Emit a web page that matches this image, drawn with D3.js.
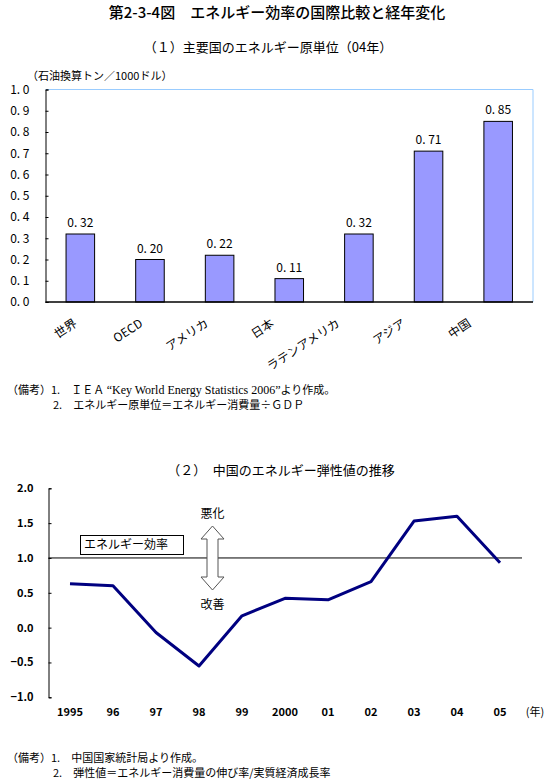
<!DOCTYPE html>
<meta charset="utf-8">
<style>
body { margin: 0; background: #fff; }
text { font-family: "Noto Sans CJK JP", "DejaVu Sans", sans-serif; fill: #000; }
</style>
<svg width="554" height="783"></svg>
<script src="https://cdn.jsdelivr.net/npm/d3@7"></script>
<script>

// chart 1 data
var regions = ["世界", "OECD", "アメリカ", "日本", "ラテンアメリカ", "アジア", "中国"];
var intensity = [0.32, 0.20, 0.22, 0.11, 0.32, 0.71, 0.85];
var intensityLabels = ["0. 32", "0. 20", "0. 22", "0. 11", "0. 32", "0. 71", "0. 85"];
var yTicks1 = [0, 0.1, 0.2, 0.3, 0.4, 0.5, 0.6, 0.7, 0.8, 0.9, 1.0];

// chart 2 data
var years = ["1995", "96", "97", "98", "99", "2000", "01", "02", "03", "04", "05"];
var elasticity = [0.63, 0.60, -0.07, -0.55, 0.17, 0.42, 0.40, 0.66, 1.53, 1.60, 0.93];
var yTicks2 = [-1.0, -0.5, 0, 0.5, 1.0, 1.5, 2.0];

var svg = d3.select("svg");

// titles
svg.append("text")
    .attr("x", 277).attr("y", 18)
    .attr("text-anchor", "middle")
    .attr("font-size", "15px")
    .attr("font-weight", "500")
    .text("第2-3-4図　エネルギー効率の国際比較と経年変化");

svg.append("text")
    .attr("x", 268).attr("y", 52)
    .attr("text-anchor", "middle")
    .attr("font-size", "13px")
    .text("（１）主要国のエネルギー原単位（04年）");

svg.append("text")
    .attr("x", 27).attr("y", 80)
    .attr("font-size", "11px")
    .text("（石油換算トン／1000ドル）");

// ---- chart 1: bars
var x1 = d3.scaleBand()
    .domain(regions)
    .range([45.5, 533])
    .paddingInner(0.59)
    .paddingOuter(0.295);

var y1 = d3.scaleLinear()
    .domain([0, 1])
    .range([302, 89.5]);

// label anchors (Excel packs the rotated labels a bit tighter)
var xl = d3.scalePoint()
    .domain(regions)
    .range([73, 467]);

// plot area border (light blue top / right)
svg.append("path")
    .attr("d", "M" + x1.range()[0] + "," + y1(1) + "H" + x1.range()[1] + "V" + y1(0))
    .attr("fill", "none")
    .attr("stroke", "#99ccff")
    .attr("stroke-width", 1);

svg.selectAll(".bar")
    .data(intensity)
    .enter().append("rect")
    .attr("class", "bar")
    .attr("x", function(d, i) { return x1(regions[i]); })
    .attr("y", function(d) { return y1(d); })
    .attr("width", x1.bandwidth())
    .attr("height", function(d) { return y1(0) - y1(d); })
    .attr("fill", "#9999ff")
    .attr("stroke", "#000")
    .attr("stroke-width", 1);

svg.selectAll(".val")
    .data(intensity)
    .enter().append("text")
    .attr("class", "val")
    .attr("x", function(d, i) { return x1(regions[i]) + x1.bandwidth() / 2; })
    .attr("y", function(d) { return y1(d) - 7; })
    .attr("text-anchor", "middle")
    .attr("font-size", "12px")
    .text(function(d, i) { return intensityLabels[i]; });

var yAxis1 = svg.append("g")
    .attr("transform", "translate(45.5,0)")
    .call(d3.axisLeft(y1).tickValues(yTicks1).tickSize(-3).tickPadding(16)
        .tickFormat(function(d) { return d3.format(".1f")(d).replace(".", ". "); }));
yAxis1.select(".domain").attr("stroke", "#000");
yAxis1.selectAll("text").attr("font-size", "12px").attr("font-family", "\"Noto Sans CJK JP\", sans-serif");

svg.append("line")
    .attr("x1", 45.5).attr("x2", 533)
    .attr("y1", y1(0)).attr("y2", y1(0))
    .attr("stroke", "#000").attr("stroke-width", 1.5);

svg.selectAll(".xl")
    .data(regions)
    .enter().append("text")
    .attr("class", "xl")
    .attr("transform", function(d) { return "translate(" + xl(d) + ",318) rotate(-33)"; })
    .attr("text-anchor", "end")
    .attr("dy", "0.75em")
    .attr("font-size", "12px")
    .text(function(d) { return d; });

// notes 1
var n1 = svg.append("text").attr("x", 7).attr("y", 394).attr("font-size", "11px");
n1.append("tspan").text("（備考）1.　ＩＥＡ ");
n1.append("tspan").attr("font-family", "\"Liberation Serif\", serif").attr("font-size", "12px")
    .text("“Key World Energy Statistics 2006”");
n1.append("tspan").text("より作成。");
svg.append("text").attr("x", 53).attr("y", 409).attr("font-size", "11px")
    .text("2.　エネルギー原単位＝エネルギー消費量÷ＧＤＰ");

// ---- chart 2: line
svg.append("text")
    .attr("x", 281).attr("y", 475)
    .attr("text-anchor", "middle")
    .attr("font-size", "13px")
    .text("（２）　中国のエネルギー弾性値の推移");

var x2 = d3.scalePoint()
    .domain(years)
    .range([70, 500]);

var y2 = d3.scaleLinear()
    .domain([-1, 2])
    .range([697.3, 488.3]);

var yAxis2 = svg.append("g")
    .attr("transform", "translate(48.5,0)")
    .call(d3.axisLeft(y2).tickValues(yTicks2).tickSize(-3).tickPadding(15)
        .tickFormat(d3.format(".1f")));
yAxis2.selectAll("text").attr("font-size", "11px").attr("font-weight", "bold")
    .attr("font-family", "\"Liberation Sans\", Arial, sans-serif")
    .text(function(d) { return d3.format(".1f")(d).replace("-", "−"); });

svg.selectAll(".xl2")
    .data(years)
    .enter().append("text")
    .attr("class", "xl2")
    .attr("x", function(d) { return x2(d); })
    .attr("y", 716)
    .attr("text-anchor", "middle")
    .attr("font-size", "11px")
    .attr("font-weight", "bold")
    .attr("font-family", "\"Liberation Sans\", Arial, sans-serif")
    .text(function(d) { return d; });

svg.append("text")
    .attr("x", 535).attr("y", 716)
    .attr("text-anchor", "middle")
    .attr("font-size", "11px")
    .text("(年)");

// reference line at 1.0
svg.append("line")
    .attr("x1", 48.5).attr("x2", 522)
    .attr("y1", y2(1)).attr("y2", y2(1))
    .attr("stroke", "#000").attr("stroke-width", 1);

var line = d3.line()
    .x(function(d, i) { return x2(years[i]); })
    .y(function(d) { return y2(d); });

svg.append("path")
    .datum(elasticity)
    .attr("d", line)
    .attr("fill", "none")
    .attr("stroke", "#000080")
    .attr("stroke-width", 3)
    .attr("stroke-linejoin", "round");

// label box
svg.append("rect")
    .attr("x", 80.5).attr("y", 535.5)
    .attr("width", 103).attr("height", 19)
    .attr("fill", "#fff").attr("stroke", "#000");
svg.append("text")
    .attr("x", 84).attr("y", 549)
    .attr("font-size", "12px")
    .text("エネルギー効率");

// double arrow
var ax = 212.5, aTop = 526, aBot = 590, hw = 11.5, sw = 5.5, hh = 13;
svg.append("path")
    .attr("d", "M" + ax + "," + aTop +
        "L" + (ax + hw) + "," + (aTop + hh) +
        "L" + (ax + sw) + "," + (aTop + hh) +
        "L" + (ax + sw) + "," + (aBot - hh) +
        "L" + (ax + hw) + "," + (aBot - hh) +
        "L" + ax + "," + aBot +
        "L" + (ax - hw) + "," + (aBot - hh) +
        "L" + (ax - sw) + "," + (aBot - hh) +
        "L" + (ax - sw) + "," + (aTop + hh) +
        "L" + (ax - hw) + "," + (aTop + hh) + "Z")
    .attr("fill", "#fff")
    .attr("stroke", "#555")
    .attr("stroke-width", 1);

svg.append("text").attr("x", ax).attr("y", 518).attr("text-anchor", "middle")
    .attr("font-size", "12px").text("悪化");
svg.append("text").attr("x", ax).attr("y", 609).attr("text-anchor", "middle")
    .attr("font-size", "12px").text("改善");

// notes 2
svg.append("text").attr("x", 7).attr("y", 762).attr("font-size", "11px")
    .text("（備考）1.　中国国家統計局より作成。");
svg.append("text").attr("x", 53).attr("y", 777).attr("font-size", "11px")
    .text("2.　弾性値＝エネルギー消費量の伸び率/実質経済成長率");

</script>
